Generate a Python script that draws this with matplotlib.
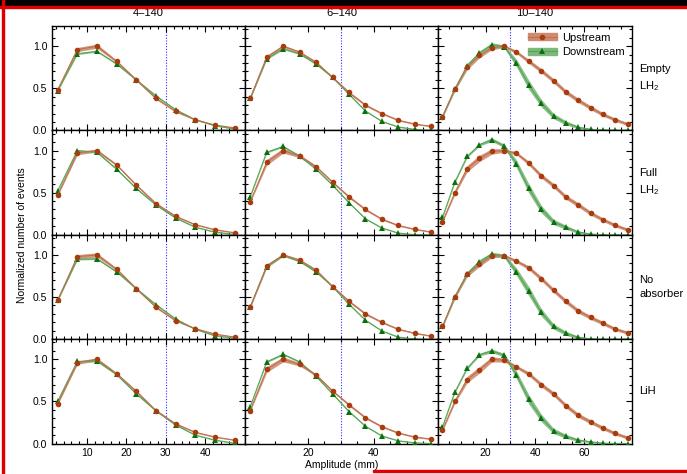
import matplotlib
matplotlib.use("Agg")
import matplotlib.pyplot as plt
from matplotlib.ticker import MultipleLocator, FixedLocator, FormatStrFormatter
from matplotlib.lines import Line2D
from matplotlib.patches import Patch, Rectangle

plt.rcParams['font.family'] = ['Liberation Sans', 'DejaVu Sans']
plt.rcParams['mathtext.default'] = 'regular'

# ---------------- data ----------------
col_titles = ["4\u2013140", "6\u2013140", "10\u2013140"]
row_labels = ["Empty\nLH$_2$", "Full\nLH$_2$", "No\nabsorber", "LiH"]

x_c1 = [2.5, 7.5, 12.5, 17.5, 22.5, 27.5, 32.5, 37.5, 42.5, 47.5]
x_c2 = [2.5, 7.5, 12.5, 17.5, 22.5, 27.5, 32.5, 37.5, 42.5, 47.5, 52.5, 57.5]
x_c3 = [2.5, 7.5, 12.5, 17.5, 22.5, 27.5, 32.5, 37.5, 42.5, 47.5, 52.5, 57.5,
        62.5, 67.5, 72.5, 77.5]

# column 1 (4-140)
up_r1c1 = [0.48, 0.96, 1.00, 0.82, 0.60, 0.38, 0.226, 0.127, 0.063, 0.030]
dn_r1c1 = [0.47, 0.91, 0.94, 0.79, 0.60, 0.41, 0.246, 0.127, 0.056, 0.016]
up_r2c1 = [0.47, 0.97, 1.00, 0.83, 0.59, 0.37, 0.22, 0.12, 0.06, 0.024]
dn_r2c1 = [0.52, 1.00, 0.98, 0.78, 0.55, 0.355, 0.20, 0.09, 0.032, 0.004]
up_r3c1 = [0.46, 0.98, 1.00, 0.83, 0.60, 0.38, 0.22, 0.125, 0.06, 0.024]
dn_r3c1 = [0.46, 0.95, 0.955, 0.80, 0.60, 0.41, 0.24, 0.117, 0.04, 0.012]
up_r4c1 = [0.47, 0.96, 1.00, 0.83, 0.62, 0.39, 0.234, 0.133, 0.077, 0.04]
dn_r4c1 = [0.50, 0.975, 0.98, 0.82, 0.59, 0.39, 0.22, 0.10, 0.04, 0.004]

# column 2 (6-140)
up_r1c2 = [0.38, 0.87, 1.00, 0.93, 0.81, 0.63, 0.45, 0.30, 0.20, 0.12, 0.075, 0.048]
dn_r1c2 = [0.38, 0.85, 0.97, 0.91, 0.79, 0.63, 0.43, 0.23, 0.107, 0.04, 0.012, 0.0]
up_r2c2 = [0.39, 0.86, 1.00, 0.935, 0.81, 0.625, 0.45, 0.30, 0.185, 0.11, 0.065, 0.032]
dn_r2c2 = [0.45, 0.98, 1.05, 0.935, 0.78, 0.59, 0.38, 0.19, 0.08, 0.02, 0.0, 0.0]
up_r3c2 = [0.38, 0.87, 1.00, 0.94, 0.82, 0.625, 0.45, 0.30, 0.20, 0.117, 0.07, 0.036]
dn_r3c2 = [0.38, 0.86, 0.995, 0.925, 0.80, 0.625, 0.415, 0.225, 0.097, 0.024, 0.0, 0.0]
up_r4c2 = [0.39, 0.88, 1.00, 0.94, 0.815, 0.625, 0.46, 0.306, 0.20, 0.125, 0.077, 0.052]
dn_r4c2 = [0.435, 0.97, 1.06, 0.97, 0.80, 0.59, 0.38, 0.205, 0.09, 0.032, 0.008, 0.0]

# column 3 (10-140)
up_r1c3 = [0.163, 0.49, 0.75, 0.89, 0.98, 1.00, 0.93, 0.82, 0.71, 0.59, 0.456, 0.357,
           0.27, 0.19, 0.127, 0.075]
dn_r1c3 = [0.163, 0.49, 0.77, 0.92, 1.016, 0.996, 0.80, 0.54, 0.325, 0.17, 0.09, 0.036,
           0.012, 0.004, 0.0, 0.0]
up_r2c3 = [0.153, 0.50, 0.786, 0.907, 0.99, 1.00, 0.968, 0.85, 0.70, 0.585, 0.448, 0.355,
           0.258, 0.18, 0.113, 0.06]
dn_r2c3 = [0.206, 0.625, 0.93, 1.07, 1.13, 1.056, 0.843, 0.55, 0.306, 0.153, 0.089, 0.032,
           0.008, 0.0, 0.0, 0.0]
up_r3c3 = [0.15, 0.50, 0.77, 0.89, 0.99, 0.99, 0.927, 0.847, 0.72, 0.58, 0.45, 0.335,
           0.258, 0.19, 0.12, 0.077]
dn_r3c3 = [0.15, 0.504, 0.778, 0.92, 1.01, 0.99, 0.80, 0.57, 0.32, 0.15, 0.07, 0.02,
           0.004, 0.0, 0.0, 0.0]
up_r4c3 = [0.157, 0.50, 0.76, 0.875, 1.00, 0.99, 0.91, 0.827, 0.70, 0.59, 0.45, 0.335,
           0.258, 0.185, 0.12, 0.07]
dn_r4c3 = [0.198, 0.61, 0.895, 1.056, 1.10, 1.05, 0.815, 0.524, 0.306, 0.15, 0.085, 0.04,
           0.02, 0.004, 0.0, 0.0]

# band half-widths
eu_c1a = [0.01, 0.025, 0.025, 0.015, 0.012, 0.012, 0.01, 0.008, 0.006, 0.005]
eu_c1b = [0.012, 0.02, 0.018, 0.012, 0.013, 0.012, 0.01, 0.008, 0.006, 0.005]
ed_c1 = [0.008, 0.01, 0.01, 0.01, 0.01, 0.01, 0.008, 0.006, 0.005, 0.004]
eu_c2a = [0.01, 0.02, 0.015, 0.012, 0.012, 0.012, 0.015, 0.013, 0.011, 0.009, 0.007, 0.006]
eu_c2b = [0.01, 0.035, 0.03, 0.02, 0.013, 0.012, 0.015, 0.013, 0.011, 0.009, 0.007, 0.006]
ed_c2 = [0.008, 0.01, 0.01, 0.01, 0.01, 0.01, 0.01, 0.008, 0.006, 0.005, 0.004, 0.003]
eu_c3a = [0.01, 0.022, 0.028, 0.028, 0.022, 0.018, 0.018, 0.024, 0.026, 0.026, 0.026, 0.026,
          0.024, 0.022, 0.02, 0.018]
eu_c3b = [0.01, 0.022, 0.038, 0.038, 0.032, 0.022, 0.018, 0.024, 0.026, 0.026, 0.026, 0.026,
          0.024, 0.022, 0.02, 0.018]
ed_c3a = [0.01, 0.015, 0.022, 0.024, 0.024, 0.02, 0.045, 0.055, 0.045, 0.032, 0.024, 0.016,
          0.009, 0.006, 0.004, 0.003]
ed_c3b = [0.01, 0.01, 0.012, 0.015, 0.022, 0.02, 0.045, 0.055, 0.045, 0.032, 0.024, 0.016,
          0.009, 0.006, 0.004, 0.003]

cols_x = [x_c1, x_c2, x_c3]
panels = [
    [(up_r1c1, dn_r1c1, eu_c1a, ed_c1), (up_r1c2, dn_r1c2, eu_c2a, ed_c2), (up_r1c3, dn_r1c3, eu_c3a, ed_c3a)],
    [(up_r2c1, dn_r2c1, eu_c1b, ed_c1), (up_r2c2, dn_r2c2, eu_c2b, ed_c2), (up_r2c3, dn_r2c3, eu_c3b, ed_c3b)],
    [(up_r3c1, dn_r3c1, eu_c1a, ed_c1), (up_r3c2, dn_r3c2, eu_c2a, ed_c2), (up_r3c3, dn_r3c3, eu_c3a, ed_c3a)],
    [(up_r4c1, dn_r4c1, eu_c1b, ed_c1), (up_r4c2, dn_r4c2, eu_c2b, ed_c2), (up_r4c3, dn_r4c3, eu_c3b, ed_c3b)],
]
xlims = [(0.95, 50.1), (0.9, 59.6), (0.8, 79.2)]
xticks = [[10, 20, 30, 40], [20, 40], [20, 40, 60]]
xminor = [2, 5, 5]

# ---------------- style ----------------
UP_BAND = '#cd8c70'
UP_LINE = '#c0704c'
UP_MARK = '#a83c0e'
DN_BAND = '#7cb87c'
DN_LINE = '#55a555'
DN_MARK = '#0a700e'

W, H = 687, 474
fig = plt.figure(figsize=(W / 100, H / 100), dpi=100)
gs = fig.add_gridspec(4, 3, left=51.5 / W, right=631.7 / W, top=1 - 26 / H,
                      bottom=1 - 443.5 / H, wspace=0, hspace=0)

for r in range(4):
    for c in range(3):
        ax = fig.add_subplot(gs[r, c])
        x = cols_x[c]
        up, dn, eu, ed = panels[r][c]
        ax.fill_between(x, [a - b for a, b in zip(up, eu)], [a + b for a, b in zip(up, eu)],
                        color=UP_BAND, lw=0, alpha=0.9, zorder=2)
        ax.fill_between(x, [a - b for a, b in zip(dn, ed)], [a + b for a, b in zip(dn, ed)],
                        color=DN_BAND, lw=0, alpha=0.9, zorder=2)
        ax.plot(x, up, color=UP_LINE, lw=0.8, marker='o', ms=4.0, mfc=UP_MARK,
                mec=UP_MARK, mew=0, zorder=4)
        ax.plot(x, dn, color=DN_LINE, lw=0.8, marker='^', ms=4.2, mfc=DN_MARK,
                mec=DN_MARK, mew=0, zorder=3)
        ax.axvline(30, color='#3030ff', lw=0.8, ls=(0, (1, 1.5)), zorder=1)
        ax.set_xlim(*xlims[c])
        ax.set_ylim(0, 1.24)
        ax.xaxis.set_major_locator(FixedLocator(xticks[c]))
        ax.xaxis.set_minor_locator(MultipleLocator(xminor[c]))
        ax.yaxis.set_major_locator(MultipleLocator(0.5))
        ax.yaxis.set_minor_locator(MultipleLocator(0.1))
        ax.yaxis.set_major_formatter(FormatStrFormatter('%.1f'))
        ax.tick_params(which='both', direction='in', top=True, right=True,
                       labelsize=7.5, width=0.8, pad=3)
        ax.tick_params(which='major', length=4)
        ax.tick_params(which='minor', length=2)
        for s in ax.spines.values():
            s.set_linewidth(1.0)
        if c != 0:
            ax.tick_params(labelleft=False)
        if r != 3:
            ax.tick_params(labelbottom=False)
        if r == 0:
            ax.set_title(col_titles[c], fontsize=8, pad=7.5)
        if c == 2:
            ax.text(1.04, 0.5, row_labels[r], transform=ax.transAxes, ha='left',
                    va='center', fontsize=8, linespacing=1.5)
        if r == 0 and c == 2:
            h_up = (Patch(color=UP_BAND), Line2D([], [], color=UP_LINE, lw=0.8, marker='o',
                                                 ms=4.0, mfc=UP_MARK, mew=0))
            h_dn = (Patch(color=DN_BAND), Line2D([], [], color=DN_LINE, lw=0.8, marker='^',
                                                 ms=4.2, mfc=DN_MARK, mew=0))
            ax.legend([h_up, h_dn], ['Upstream', 'Downstream'], loc='upper right',
                      frameon=False, fontsize=8, handlelength=2.6, handleheight=0.6,
                      borderaxespad=0.2, labelspacing=0.4, handletextpad=0.5)

fig.text(22 / W, 1 - 234.75 / H, 'Normalized number of events', rotation=90,
         ha='center', va='center', fontsize=7.5)
fig.text(341.6 / W, 1 - 465 / H, 'Amplitude (mm)', ha='center', va='center', fontsize=7.5)

# frame marks present in the reference picture
fig.patches.append(Rectangle((0, 1 - 5.5 / H), 1, 5.5 / H, transform=fig.transFigure,
                             color='black', zorder=10))
fig.patches.append(Rectangle((0, 1 - 7.5 / H), 1, 2 / H, transform=fig.transFigure,
                             color='#e00000', zorder=10))
fig.patches.append(Rectangle((1.5 / W, 0), 2 / W, 1, transform=fig.transFigure,
                             color='#e00000', zorder=10))
fig.patches.append(Rectangle((373 / W, 1 - 471.5 / H), 1 - 373 / W, 2 / H,
                             transform=fig.transFigure, color='#e00000', zorder=10))

fig.savefig('out.png', dpi=100)
